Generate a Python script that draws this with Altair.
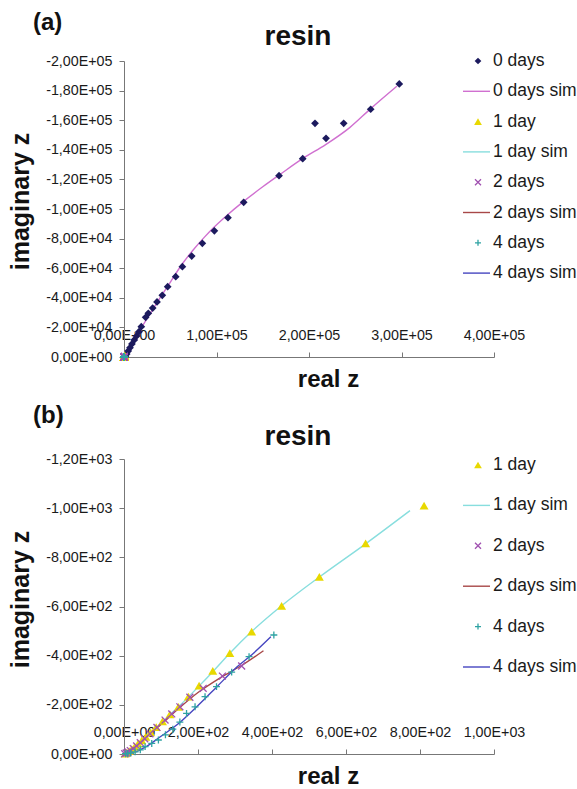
import altair as alt
import pandas as pd

# ---- series names and colours -------------------------------------------
SERIES = ["0 days", "0 days sim", "1 day", "1 day sim",
          "2 days", "2 days sim", "4 days", "4 days sim"]
COLORS = ["#1c1a5e", "#d070d0", "#e8d800", "#88dede",
          "#a050b0", "#a84848", "#2ea3a3", "#4646c0"]

# ---- measured impedance (real z, imaginary z) ---------------------------
real_0 = [1.4e3, 2.9e3, 4.6e3, 6.5e3, 8.6e3, 11.1e3, 13.7e3, 16.2e3, 18.7e3,
          23.4e3, 26.3e3, 31.0e3, 35.7e3, 41.4e3, 47.2e3, 55.9e3, 63.1e3,
          73.2e3, 84.7e3, 97.7e3, 112.4e3, 129.4e3, 167.6e3, 193.2e3,
          206.5e3, 218.4e3, 237.5e3, 266.7e3, 297.6e3]
imag_0 = [-0.2e3, -2.0e3, -4.1e3, -6.3e3, -8.8e3, -11.5e3, -14.2e3, -17.1e3,
          -20.5e3, -26.8e3, -29.5e3, -33.1e3, -37.2e3, -41.7e3, -47.5e3,
          -54.3e3, -61.0e3, -68.2e3, -76.8e3, -85.3e3, -94.1e3, -104.5e3,
          -122.5e3, -134.0e3, -157.9e3, -147.8e3, -157.9e3, -167.4e3,
          -184.5e3]

real_1 = [3, 8, 14, 21, 29, 38, 48, 59, 72, 87, 104, 124, 147, 174, 203,
          240, 286, 345, 426, 528, 653, 811]
imag_1 = [-2, -6, -12, -20, -30, -42, -55, -70, -88, -109, -133, -161, -192,
          -233, -278, -338, -410, -498, -603, -721, -857, -1010]

real_2 = [2, 6, 11, 17, 25, 34, 44, 56, 70, 89, 111, 129, 151, 178, 214,
          266, 318]
imag_2 = [-1, -4, -8, -14, -22, -33, -46, -62, -82, -108, -138, -163, -192,
          -231, -267, -317, -358]

real_4 = [4, 10, 18, 30, 44, 57, 75, 93, 112, 132, 151, 169, 192, 219, 250,
          291, 338, 405]
imag_4 = [-1, -2, -4, -9, -17, -30, -43, -57, -78, -101, -130, -165, -192,
          -233, -274, -333, -396, -484]

# ---- simulated (fitted) curves ------------------------------------------
real_0s = [0, 1e3, 3e3, 6e3, 10e3, 15e3, 20e3, 30e3, 40e3, 50e3, 62e3, 75e3,
           87e3, 97e3, 110e3, 129e3, 150e3, 169e3, 193e3, 218e3, 244e3,
           267e3, 295e3]
imag_0s = [0, -1.2e3, -3.4e3, -6.6e3, -10.8e3, -16e3, -21e3, -31e3, -41e3,
           -50.5e3, -62e3, -72.5e3, -81e3, -87.5e3, -95e3, -105e3, -115e3,
           -123.5e3, -134e3, -143.5e3, -155e3, -168e3, -183e3]

real_1s = [0, 20, 50, 100, 150, 200, 240, 286, 345, 426, 528, 653, 773]
imag_1s = [0, -18, -55, -125, -196, -272, -335, -410, -498, -603, -720,
           -855, -990]

real_2s = [0, 25, 60, 100, 150, 200, 260, 320, 377]
imag_2s = [0, -22, -68, -120, -188, -250, -310, -362, -420]

real_4s = [0, 30, 60, 100, 150, 200, 250, 300, 350, 397]
imag_4s = [0, -8, -30, -72, -127, -197, -272, -347, -410, -477]

# ---- axis ticks ---------------------------------------------------------
X_TICKS_A = [0, 1e5, 2e5, 3e5, 4e5]
Y_TICKS_A = [0, -2e4, -4e4, -6e4, -8e4, -1e5, -1.2e5, -1.4e5, -1.6e5,
             -1.8e5, -2e5]
X_TICKS_B = [0, 200, 400, 600, 800, 1000]
Y_TICKS_B = [0, -200, -400, -600, -800, -1000, -1200]

FONT = "Liberation Sans"
X_SHAPE = "M-1,-1L1,1M-1,1L1,-1"
PLUS_SHAPE = "M-1,0L1,0M0,-1L0,1"

MARKERS = {
    "0 days": dict(shape="diamond", size=60, filled=True, strokeWidth=0),
    "1 day": dict(shape="triangle-up", size=80, filled=True, strokeWidth=0),
    "2 days": dict(shape=X_SHAPE, size=48, filled=False, strokeWidth=1.3),
    "4 days": dict(shape=PLUS_SHAPE, size=48, filled=False, strokeWidth=1.3),
}


def color_of(name):
    return COLORS[SERIES.index(name)]


def table(pairs):
    rows = []
    for name, xs, ys in pairs:
        for i, (x, y) in enumerate(zip(xs, ys)):
            rows.append({"series": name, "idx": i, "re": x, "im": y})
    return pd.DataFrame(rows)


measured = table([("0 days", real_0, imag_0), ("1 day", real_1, imag_1),
                  ("2 days", real_2, imag_2), ("4 days", real_4, imag_4)])
simulated = table([("0 days sim", real_0s, imag_0s),
                   ("1 day sim", real_1s, imag_1s),
                   ("2 days sim", real_2s, imag_2s),
                   ("4 days sim", real_4s, imag_4s)])

# labels like -1,20E+03
_E = "floor(log(abs(datum.value)) / LN10 + 1e-9)"
SCI = ("datum.value == 0 ? '0,00E+00' : (datum.value < 0 ? '-' : '') + "
       f"replace(format(abs(datum.value) / pow(10, {_E}), '.2f'), '.', ',')"
       f" + 'E+' + pad({_E} + '', 2, '0', 'left')")

SIM_NAMES = [s for s in SERIES if s.endswith("sim")]
SIM_SCALE = alt.Scale(domain=SIM_NAMES, range=[color_of(s) for s in SIM_NAMES])


def panel(tag, names, x_ticks, y_ticks, width, height, leg_first, leg_gap,
          tag_y, title_y):
    xs = alt.Scale(domain=[0, x_ticks[-1]], nice=False, zero=False)
    ys = alt.Scale(domain=[y_ticks[-1], 0], reverse=True, nice=False,
                   zero=False)
    y_axis = alt.Axis(values=y_ticks, labelExpr=SCI, title="imaginary z",
                      titleFont=FONT, titleFontSize=25, titleFontWeight="bold",
                      titleColor="#111", titlePadding=12, titleY=140,
                      labelFont=FONT, labelFontSize=14.3, labelColor="#1a1a1a",
                      labelPadding=7, tickSize=5, tickColor="#777",
                      domainColor="#777", grid=False, labelFlush=False,
                      labelOverlap=False)
    x_top = alt.Axis(orient="top", offset=-height, values=x_ticks,
                     labelExpr=SCI, title=None, labelFont=FONT,
                     labelFontSize=14.3, labelColor="#1a1a1a", labelPadding=10,
                     tickSize=5, tickColor="#777", domainColor="#777",
                     grid=False, labelFlush=False, labelOverlap=False)
    x_bottom = alt.Axis(orient="bottom", title="real z", titleFont=FONT,
                        titleFontSize=24, titleFontWeight="bold",
                        titleColor="#111", titlePadding=10, titleX=204,
                        domain=False, ticks=False, labels=False, grid=False)

    sim = simulated[simulated["series"].isin(names)]
    meas = measured[measured["series"].isin(names)]

    lines = alt.Chart(sim).mark_line(
        strokeWidth=1.4, clip=True, interpolate="monotone").encode(
        x=alt.X("re:Q", scale=xs, axis=x_top),
        y=alt.Y("im:Q", scale=ys, axis=y_axis),
        color=alt.Color("series:N", scale=SIM_SCALE, legend=None),
        order="idx:Q",
    )

    layers = [lines]
    first = True
    for name in ["0 days", "1 day", "2 days", "4 days"]:
        if name not in names:
            continue
        st = MARKERS[name]
        layers.append(
            alt.Chart(meas).transform_filter(alt.datum.series == name)
            .mark_point(opacity=1, color=color_of(name), **st).encode(
                x=alt.X("re:Q", scale=xs, axis=x_bottom if first else None),
                y=alt.Y("im:Q", scale=ys, axis=None),
            )
        )
        first = False

    # legend drawn beside the curves
    leg = pd.DataFrame({"name": names, "row": list(range(len(names)))})
    base = alt.Chart(leg).transform_calculate(
        py=f"{leg_first} + datum.row * {leg_gap}")
    ly = alt.Y("py:Q", scale=None, axis=None)
    sims = [n for n in names if n.endswith("sim")]
    layers.append(
        base.transform_filter(alt.FieldOneOfPredicate(field="name", oneOf=sims))
        .mark_rule(strokeWidth=1.4).encode(
            x=alt.value(339), x2=alt.value(366), y=ly,
            color=alt.Color("name:N", scale=SIM_SCALE, legend=None))
    )
    for name in names:
        if name in MARKERS:
            st = dict(MARKERS[name])
            st["size"] = st["size"] * 0.75
            layers.append(
                base.transform_filter(alt.datum.name == name)
                .mark_point(opacity=1, color=color_of(name), **st)
                .encode(x=alt.value(354), y=ly)
            )
    layers.append(
        base.mark_text(align="left", baseline="middle", font=FONT,
                       fontSize=17.5, color="#1a1a1a")
        .encode(x=alt.value(369), y=ly, text="name:N")
    )

    one = alt.Data(values=[{"k": 0}])
    layers.append(
        alt.Chart(one).mark_text(align="left", baseline="alphabetic",
                                 font=FONT, fontSize=24, fontWeight="bold",
                                 color="#111")
        .encode(x=alt.value(-91), y=alt.value(tag_y), text=alt.value(tag))
    )
    layers.append(
        alt.Chart(one).mark_text(align="center", baseline="alphabetic",
                                 font=FONT, fontSize=28, fontWeight="bold",
                                 color="#111")
        .encode(x=alt.value(174), y=alt.value(title_y), text=alt.value("resin"))
    )

    return alt.layer(*layers).resolve_axis(
        x="independent", y="independent").properties(width=width, height=height)


top = panel("(a)", SERIES, X_TICKS_A, Y_TICKS_A, 370, 296, 0, 30.3, -31, -16)
bottom = panel("(b)", SERIES[2:], X_TICKS_B, Y_TICKS_B, 370, 295, 6, 40.4,
               -36, -14)

chart = alt.vconcat(top, bottom, spacing=13).properties(
    padding={"left": 8, "top": 11, "right": 0, "bottom": 0},
    background="white",
).configure_view(stroke=None)

chart.save("out.html", embed_options={"renderer": "svg", "actions": False})
